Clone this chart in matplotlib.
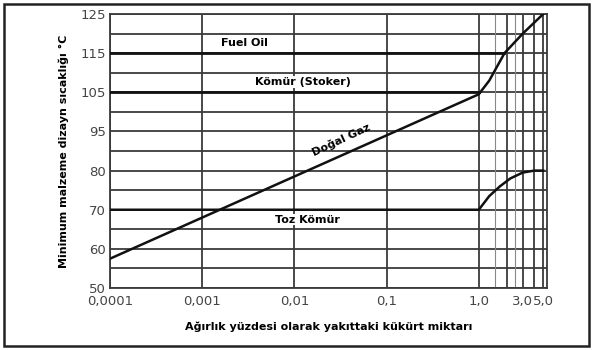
import numpy as np
import matplotlib
matplotlib.use('Agg')
import matplotlib.pyplot as plt
from matplotlib.patches import Rectangle

plt.rcParams['font.family'] = ['Liberation Sans Narrow', 'DejaVu Sans']

# eksen etiketleri (y ekseni eşit aralıklı değil)
y_ticks = [50, 60, 70, 80, 95, 105, 115, 125]
y_grid = [50, 55, 60, 65, 70, 75, 80, 87.5, 95, 100, 105, 110, 115, 120, 125]
x_ticks = [0.0001, 0.001, 0.01, 0.1, 1.0, 3.0, 5.0]
x_labels = ['0,0001', '0,001', '0,01', '0,1', '1,0', '3,0', '5,0']
x_minor = [2.0, 4.0]

# veriler
fuel_x = [0.0001, 1.9]
fuel_y = [115, 115]
stoker_x = [0.0001, 1.0]
stoker_y = [105, 105]
gaz_x = [0.0001, 1.0, 1.3, 1.9, 3.0, 5.0]
gaz_y = [57.5, 104.5, 108, 115, 120, 125]
toz_x = [0.0001, 1.0, 1.3, 1.7, 2.2, 3.0, 4.0, 5.0]
toz_y = [70, 70, 73.5, 76, 78, 79.5, 80, 80]

pos = np.arange(len(y_ticks))


def fwd(v):
    return np.interp(v, y_ticks, pos)


def inv(p):
    return np.interp(p, pos, y_ticks)


fig = plt.figure(figsize=(5.93, 3.5), dpi=100)
ax = fig.add_axes([0.1855, 0.177, 0.737, 0.783])
ax.set_xscale('log')
ax.set_yscale('function', functions=(fwd, inv))
ax.set_xlim(0.0001, 5.5)
ax.set_ylim(50, 125)

gc = '#3a3a3a'
for v in y_grid:
    ax.axhline(v, color=gc, lw=1.3, zorder=1)
for v in x_ticks[:5] + x_minor + [3.0, 5.0]:
    ax.axvline(v, color=gc, lw=1.3, zorder=1)
ax.axvline(1.5, color='#888888', lw=0.8, zorder=1)
ax.axvline(2.5, color='#888888', lw=0.8, zorder=1)

lc = '#111111'
ax.plot(fuel_x, fuel_y, color=lc, lw=2, zorder=3)
ax.plot(stoker_x, stoker_y, color=lc, lw=2, zorder=3)
ax.plot(gaz_x, gaz_y, color=lc, lw=1.8, zorder=3)
ax.plot(toz_x, toz_y, color=lc, lw=1.8, zorder=3)

tb = dict(facecolor='white', edgecolor='none', pad=0.5)
ax.text(0.0029, 117.6, 'Fuel Oil', fontsize=8, fontweight='bold', ha='center', va='center', bbox=tb, zorder=4)
ax.text(0.0125, 107.6, 'Kömür (Stoker)', fontsize=8, fontweight='bold', ha='center', va='center', bbox=tb, zorder=4)
ax.text(0.032, 91.6, 'Doğal Gaz', fontsize=8, fontweight='bold', ha='center', va='center', rotation=25,
        zorder=4)
ax.text(0.014, 67.5, 'Toz Kömür', fontsize=8, fontweight='bold', ha='center', va='center', bbox=tb, zorder=4)

ax.set_yticks(y_ticks)
ax.set_yticklabels([str(v) for v in y_ticks])
ax.set_xticks(x_ticks)
ax.set_xticklabels(x_labels)
ax.xaxis.set_minor_locator(matplotlib.ticker.NullLocator())
ax.tick_params(axis='both', length=0, labelsize=9.5, colors='#444444')
ax.tick_params(axis='x', pad=5)
ax.tick_params(axis='y', pad=3)

for s in ax.spines.values():
    s.set_color(gc)
    s.set_linewidth(1.3)

ax.set_ylabel('Minimum malzeme dizayn sıcaklığı °C', fontsize=8, fontweight='bold', labelpad=8)
ax.set_xlabel('Ağırlık yüzdesi olarak yakıttaki kükürt miktarı', fontsize=8, fontweight='bold', labelpad=10)

fig.patches.append(Rectangle((0.006, 0.012), 0.988, 0.978, transform=fig.transFigure,
                             fill=False, edgecolor='#222222', lw=1.8))

fig.savefig('out.png', dpi=100)
